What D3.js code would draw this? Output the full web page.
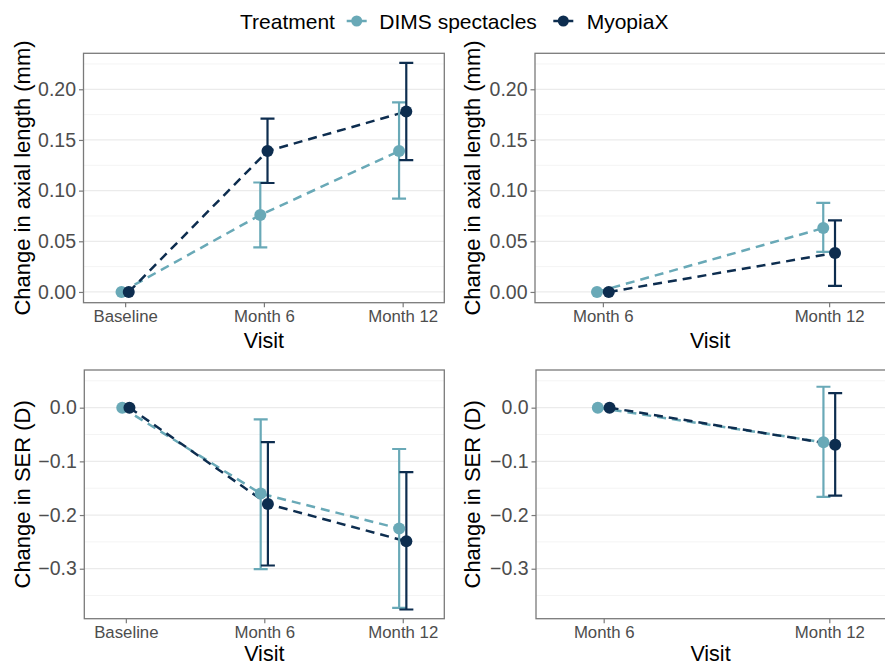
<!DOCTYPE html>
<html>
<head>
<meta charset="utf-8">
<script src="https://cdn.jsdelivr.net/npm/d3@7"></script>
<style>
  html, body { margin: 0; padding: 0; background: #fff; }
  svg { display: block; font-family: "Liberation Sans", Arial, sans-serif; }
</style>
</head>
<body>
<svg id="chart" width="885" height="665"></svg>
<script>
// ---------------- DATA ----------------
const seriesNames = ["DIMS spectacles", "MyopiaX"];
const seriesColors = ["#69a9b7", "#0d2d4f"];

const visitsFull = ["Baseline", "Month 6", "Month 12"];
const visitsShort = ["Month 6", "Month 12"];

const alTicks = [0.00, 0.05, 0.10, 0.15, 0.20];
const serTicks = [0.0, -0.1, -0.2, -0.3];

// Axial length change from baseline
const alDimsMean = [0, 0.076, 0.139];
const alDimsLo   = [null, 0.044, 0.092];
const alDimsHi   = [null, 0.108, 0.187];
const alMyoMean  = [0, 0.139, 0.178];
const alMyoLo    = [null, 0.1075, 0.130];
const alMyoHi    = [null, 0.171, 0.226];

// Axial length change from month 6
const al6DimsMean = [0, 0.063];
const al6DimsLo   = [null, 0.0395];
const al6DimsHi   = [null, 0.088];
const al6MyoMean  = [0, 0.0385];
const al6MyoLo    = [null, 0.006];
const al6MyoHi    = [null, 0.0707];

// SER change from baseline
const serDimsMean = [0, -0.160, -0.225];
const serDimsLo   = [null, -0.3006, -0.373];
const serDimsHi   = [null, -0.0217, -0.077];
const serMyoMean  = [0, -0.1795, -0.249];
const serMyoLo    = [null, -0.294, -0.376];
const serMyoHi    = [null, -0.064, -0.120];

// SER change from month 6
const ser6DimsMean = [0, -0.0645];
const ser6DimsLo   = [null, -0.166];
const ser6DimsHi   = [null, 0.039];
const ser6MyoMean  = [0, -0.069];
const ser6MyoLo    = [null, -0.164];
const ser6MyoHi    = [null, 0.027];

// ---------------- DRAW ----------------
const svg = d3.select("#chart");
const GRID_MAJOR = "#ebebeb";
const GRID_MINOR = "#f4f4f4";
const BORDER = "#7a7a7a";
const TICK_TEXT = "#4d4d4d";
const DODGE = 0.026; // in category-step units

function makeSeries(visits, means, los, his) {
  return visits.map((v, i) => ({ visit: v, mean: means[i], lo: los[i], hi: his[i] }));
}

function drawPanel(cfg) {
  const g = svg.append("g");
  const x = d3.scalePoint().domain(cfg.visits).range([cfg.left, cfg.right]).padding(0.3);
  const y = d3.scaleLinear().domain(cfg.yDomain).range([cfg.bottom, cfg.top]);
  const step = x.step();

  const clipId = "clip" + cfg.id;
  svg.append("clipPath").attr("id", clipId).append("rect")
    .attr("x", cfg.left).attr("y", cfg.top)
    .attr("width", cfg.right - cfg.left).attr("height", cfg.bottom - cfg.top);

  // minor grid
  const minor = [];
  for (let i = 0; i < cfg.ticks.length - 1; i++) minor.push((cfg.ticks[i] + cfg.ticks[i + 1]) / 2);
  const tmin = d3.min(cfg.ticks), tmax = d3.max(cfg.ticks), dt = Math.abs(cfg.ticks[1] - cfg.ticks[0]);
  [tmin - dt / 2, tmax + dt / 2].forEach(v => {
    if (v > cfg.yDomain[0] && v < cfg.yDomain[1]) minor.push(v);
  });
  g.append("g").selectAll("line").data(minor).join("line")
    .attr("x1", cfg.left).attr("x2", cfg.right)
    .attr("y1", d => y(d)).attr("y2", d => y(d))
    .attr("stroke", GRID_MINOR).attr("stroke-width", 1);
  g.append("g").selectAll("line").data(cfg.ticks).join("line")
    .attr("x1", cfg.left).attr("x2", cfg.right)
    .attr("y1", d => y(d)).attr("y2", d => y(d))
    .attr("stroke", GRID_MAJOR).attr("stroke-width", 1.3);

  // axes
  const fmt = cfg.fmt;
  const yAxis = g.append("g").attr("transform", `translate(${cfg.left},0)`)
    .call(d3.axisLeft(y).tickValues(cfg.ticks).tickFormat(fmt).tickSize(4.5).tickPadding(3));
  yAxis.select(".domain").remove();
  yAxis.selectAll(".tick line").attr("stroke", BORDER).attr("stroke-width", 1.2);
  yAxis.selectAll(".tick text").attr("fill", TICK_TEXT).attr("font-size", 19.5)
    .attr("font-family", "Liberation Sans, Arial, sans-serif");

  const xAxis = g.append("g").attr("transform", `translate(0,${cfg.bottom})`)
    .call(d3.axisBottom(x).tickSize(4.5).tickPadding(3));
  xAxis.select(".domain").remove();
  xAxis.selectAll(".tick line").attr("stroke", BORDER).attr("stroke-width", 1.2);
  xAxis.selectAll(".tick text").attr("fill", TICK_TEXT).attr("font-size", 16.8)
    .attr("font-family", "Liberation Sans, Arial, sans-serif");

  // data
  const plot = g.append("g").attr("clip-path", `url(#${clipId})`);
  const offsets = [-DODGE * step, DODGE * step];
  const line = d3.line().x(d => d.px).y(d => y(d.mean));

  cfg.series.forEach((s, si) => {
    const pts = s.map(d => Object.assign({}, d, { px: x(d.visit) + offsets[si] }));
    plot.append("path").datum(pts).attr("d", line)
      .attr("fill", "none").attr("stroke", seriesColors[si])
      .attr("stroke-width", 2.5).attr("stroke-dasharray", "9,6");
  });
  cfg.series.forEach((s, si) => {
    const pts = s.filter(d => d.lo !== null).map(d => Object.assign({}, d, { px: x(d.visit) + offsets[si] }));
    const eb = plot.append("g").attr("stroke", seriesColors[si]).attr("stroke-width", 2.2);
    eb.selectAll("line.v").data(pts).join("line").attr("class", "v")
      .attr("x1", d => d.px).attr("x2", d => d.px)
      .attr("y1", d => y(d.lo)).attr("y2", d => y(d.hi));
    eb.selectAll("line.t").data(pts).join("line").attr("class", "t")
      .attr("x1", d => d.px - 7).attr("x2", d => d.px + 7)
      .attr("y1", d => y(d.hi)).attr("y2", d => y(d.hi));
    eb.selectAll("line.b").data(pts).join("line").attr("class", "b")
      .attr("x1", d => d.px - 7).attr("x2", d => d.px + 7)
      .attr("y1", d => y(d.lo)).attr("y2", d => y(d.lo));
  });
  cfg.series.forEach((s, si) => {
    const pts = s.map(d => Object.assign({}, d, { px: x(d.visit) + offsets[si] }));
    plot.append("g").selectAll("circle").data(pts).join("circle")
      .attr("cx", d => d.px).attr("cy", d => y(d.mean)).attr("r", 6)
      .attr("fill", seriesColors[si]);
  });

  // border
  g.append("rect").attr("x", cfg.left).attr("y", cfg.top)
    .attr("width", cfg.right - cfg.left).attr("height", cfg.bottom - cfg.top)
    .attr("fill", "none").attr("stroke", BORDER).attr("stroke-width", 1.3);

  // titles
  g.append("text")
    .attr("transform", `translate(${cfg.yTitleX},${(cfg.top + cfg.bottom) / 2}) rotate(-90)`)
    .attr("text-anchor", "middle").attr("dy", "0.35em")
    .attr("font-size", 22).attr("fill", "#000").text(cfg.yTitle);
  g.append("text")
    .attr("x", (cfg.left + Math.min(cfg.right, 885)) / 2 + cfg.visitShift).attr("y", cfg.visitY)
    .attr("text-anchor", "middle").attr("font-size", 21.5).attr("fill", "#000").text("Visit");
}

const fmt2 = d3.format(".2f");
const fmt1 = d3.format(".1f");

drawPanel({
  id: "tl", left: 83.5, right: 444.3, top: 53.3, bottom: 302.7,
  visits: visitsFull, yDomain: [-0.0106, 0.2355], ticks: alTicks, fmt: fmt2,
  yTitle: "Change in axial length (mm)", yTitleX: 22.5, visitY: 347.5, visitShift: 0,
  series: [makeSeries(visitsFull, alDimsMean, alDimsLo, alDimsHi),
           makeSeries(visitsFull, alMyoMean, alMyoLo, alMyoHi)]
});
drawPanel({
  id: "tr", left: 535, right: 897, top: 53.3, bottom: 302.7,
  visits: visitsShort, yDomain: [-0.0106, 0.2355], ticks: alTicks, fmt: fmt2,
  yTitle: "Change in axial length (mm)", yTitleX: 472, visitY: 347.5, visitShift: 0,
  series: [makeSeries(visitsShort, al6DimsMean, al6DimsLo, al6DimsHi),
           makeSeries(visitsShort, al6MyoMean, al6MyoLo, al6MyoHi)]
});
drawPanel({
  id: "bl", left: 84.3, right: 444.3, top: 370, bottom: 618.7,
  visits: visitsFull, yDomain: [-0.3931, 0.0702], ticks: serTicks, fmt: fmt1,
  yTitle: "Change in SER (D)", yTitleX: 22.5, visitY: 661, visitShift: 0,
  series: [makeSeries(visitsFull, serDimsMean, serDimsLo, serDimsHi),
           makeSeries(visitsFull, serMyoMean, serMyoLo, serMyoHi)]
});
drawPanel({
  id: "br", left: 536, right: 897, top: 370, bottom: 618.7,
  visits: visitsShort, yDomain: [-0.3931, 0.0702], ticks: serTicks, fmt: fmt1,
  yTitle: "Change in SER (D)", yTitleX: 472, visitY: 661, visitShift: 0,
  series: [makeSeries(visitsShort, ser6DimsMean, ser6DimsLo, ser6DimsHi),
           makeSeries(visitsShort, ser6MyoMean, ser6MyoLo, ser6MyoHi)]
});

// ---------------- LEGEND ----------------
const legend = svg.append("g").attr("font-size", 21);
legend.append("text").attr("x", 240).attr("y", 28.5).attr("fill", "#000").text("Treatment");
const keyX = [356.7, 563.3];
const labelX = [379.3, 586.7];
seriesNames.forEach((name, i) => {
  legend.append("line").attr("x1", keyX[i] - 10).attr("x2", keyX[i] + 10)
    .attr("y1", 21).attr("y2", 21).attr("stroke", seriesColors[i]).attr("stroke-width", 2.5);
  legend.append("circle").attr("cx", keyX[i]).attr("cy", 21).attr("r", 5.5).attr("fill", seriesColors[i]);
  legend.append("text").attr("x", labelX[i]).attr("y", 28.5).attr("fill", "#000").text(name);
});
</script>
</body>
</html>
